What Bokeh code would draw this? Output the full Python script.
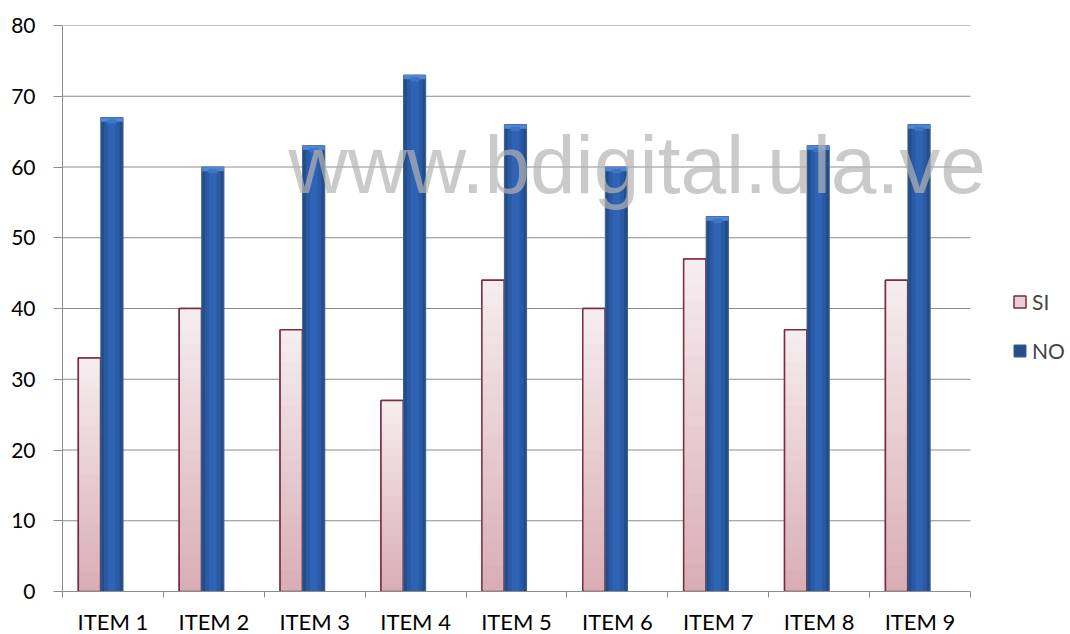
import numpy as np
from bokeh.plotting import figure
from bokeh.models import Range1d, FixedTicker, Legend, LegendItem, Label
from bokeh.embed import file_html
from bokeh.resources import INLINE

categories = ["ITEM 1", "ITEM 2", "ITEM 3", "ITEM 4", "ITEM 5", "ITEM 6", "ITEM 7", "ITEM 8", "ITEM 9"]
si_values = [33, 40, 37, 27, 44, 40, 47, 37, 44]
no_values = [67, 60, 63, 73, 66, 60, 53, 63, 66]
y_ticks = [0, 10, 20, 30, 40, 50, 60, 70, 80]

FONT = "Lato"
n = len(categories)
idx = np.arange(n)
si = np.array(si_values, dtype=float)
no = np.array(no_values, dtype=float)
x_si = idx + 0.5 - 0.233
x_no = idx + 0.5 - 0.01
bw = 0.22

# frame extends past the category area so the watermark/legend are not clipped
FW = 1004
x_end = n * FW / 908
p = figure(frame_width=FW, frame_height=566, output_backend="svg", toolbar_location=None,
           x_range=Range1d(0, x_end), y_range=Range1d(0, 80),
           min_border_left=62, min_border_top=25, min_border_bottom=42, min_border_right=0)
p.outline_line_color = None
p.background_fill_color = "white"

# gridlines only over the category area
p.xgrid.grid_line_color = None
p.ygrid.grid_line_color = None
gy = [t for t in y_ticks if t > 0]
p.segment(x0=[0] * len(gy), x1=[n] * len(gy), y0=gy, y1=gy, line_color="#8c8c8c", line_width=1)

p.yaxis.ticker = FixedTicker(ticks=y_ticks)
p.xaxis.ticker = FixedTicker(ticks=list(idx + 0.5), minor_ticks=list(range(n + 1)))
p.xaxis.major_label_overrides = {float(i + 0.5): c for i, c in enumerate(categories)}
p.xaxis.bounds = (0, n)
for ax in (p.xaxis, p.yaxis):
    ax.axis_line_color = "#8c8c8c"
    ax.major_tick_line_color = "#8c8c8c"
    ax.minor_tick_line_color = "#8c8c8c"
    ax.major_label_text_font = FONT
    ax.major_label_text_color = "#000000"
p.yaxis.major_label_text_font_size = "21px"
p.xaxis.major_label_text_font_size = "22px"
p.yaxis.major_tick_in = 0
p.yaxis.major_tick_out = 9
p.yaxis.minor_tick_line_color = None
p.yaxis.major_label_standoff = 18
p.xaxis.major_tick_in = 0
p.xaxis.major_tick_out = 0
p.xaxis.minor_tick_in = 0
p.xaxis.minor_tick_out = 6
p.xaxis.major_label_standoff = 10

# SI bars: base (used for legend), vertical gradient, outline
si_r = p.vbar(x=x_si, top=si, bottom=0, width=bw, fill_color="#e8d0d4",
              line_color="#7d2b40", line_width=1.5)
N = 24
top_c = np.array([0xf5, 0xec, 0xee])
bot_c = np.array([0xd8, 0xac, 0xb3])
for k in range(N, 0, -1):
    f = k / N
    c = bot_c + (top_c - bot_c) * f
    col = "#%02x%02x%02x" % tuple(int(round(v)) for v in c)
    p.vbar(x=x_si, top=si * f, bottom=0, width=bw, fill_color=col, line_color=None)
p.vbar(x=x_si, top=si, bottom=0, width=bw, fill_alpha=0, line_color="#7d2b40", line_width=1.5)

# NO bars: cylinder shading
no_r = p.vbar(x=x_no, top=no, bottom=0, width=bw, fill_color="#244d8a", line_color="#3a5f8f", line_width=1)
p.vbar(x=x_no, top=no, bottom=0, width=bw * 0.7, fill_color="#2a5aa3", line_color=None)
p.vbar(x=x_no, top=no, bottom=0, width=bw * 0.35, fill_color="#2f63b3", line_color=None)
p.vbar(x=x_no, top=no, bottom=no - 0.6, width=bw, fill_color="#4f86d4", line_color=None)
p.vbar(x=x_no, top=no - 0.3, bottom=no - 0.9, width=bw * 0.4, fill_color="#3d74c4", line_color=None)

# watermark
wm = Label(x=2.24, y=60.4, text="www.bdigital.ula.ve", text_font="Liberation Sans",
           text_font_size="82px", text_color="#b4b4b4", text_alpha=0.7,
           text_baseline="alphabetic", text_align="left")
p.add_layout(wm)

legend = Legend(items=[LegendItem(label="SI", renderers=[si_r]),
                       LegendItem(label="NO", renderers=[no_r])],
                location=(950, 228), orientation="vertical",
                label_text_font=FONT, label_text_font_size="21px",
                glyph_width=15, glyph_height=15, spacing=24, padding=0,
                label_standoff=5, border_line_color=None, background_fill_alpha=0,
                margin=0)
p.add_layout(legend, "center")

open("out.html", "w").write(file_html(p, INLINE))
